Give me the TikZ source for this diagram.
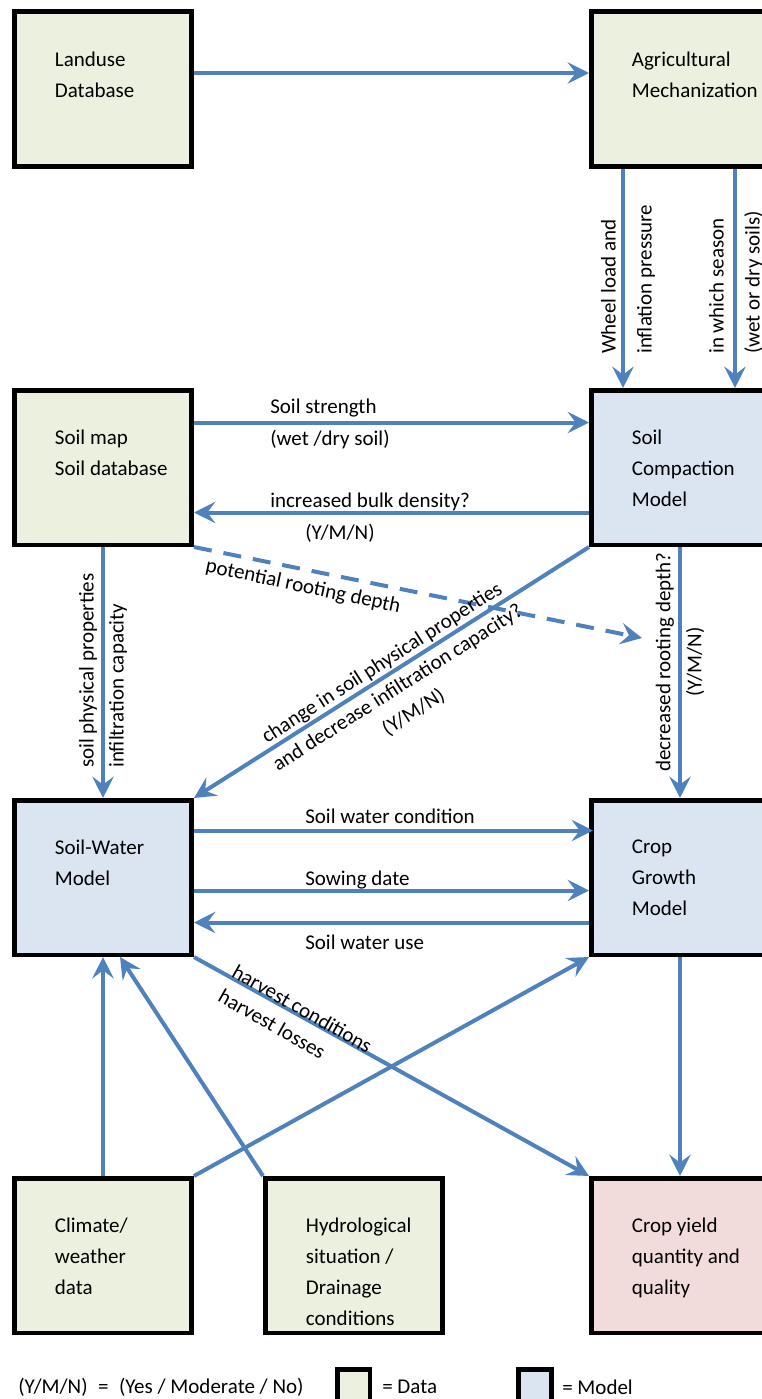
\documentclass[tikz,border=0pt]{standalone}
\usepackage{fontspec}
\setmainfont{Carlito}
\usepackage{tikz}
\usetikzlibrary{arrows.meta,calc,positioning}
\usepackage{xcolor}
\definecolor{arrowblue}{RGB}{79,129,189}
\definecolor{datagreen}{RGB}{235,241,222}
\definecolor{modelblue}{RGB}{219,229,241}
\definecolor{yieldpink}{RGB}{242,220,219}
\tikzstyle{box} = [draw=black, line width=3.4pt, minimum width=133.1pt, minimum height=115.9pt, inner sep=0pt]
\tikzstyle{databox} = [box, fill=datagreen]
\tikzstyle{modelbox} = [box, fill=modelblue]
\tikzstyle{yieldbox} = [box, fill=yieldpink]
\tikzstyle{boxtext} = [anchor=north west, align=left, inner sep=0pt, xshift=32pt, yshift=-31.5pt]
\tikzstyle{flowarrow} = [line width=3pt, color=arrowblue, -{Stealth[length=16pt,width=16pt,inset=6pt]}]
\tikzstyle{lbl} = [inner sep=0pt]
\tikzstyle{legbox} = [draw=black, line width=3.4pt, minimum width=24.4pt, minimum height=24.4pt, inner sep=0pt]

\begin{document}
\begin{tikzpicture}[x=0.75pt, y=-0.75pt, font=\fontsize{15.75}{23.25}\selectfont]
\useasboundingbox (0,0) rectangle (761,1399);

% data and model boxes
\node[databox, label={[boxtext]north west:Landuse\\Database}] (landuse) at (103,89) {};
\node[databox, label={[boxtext]north west:Agricultural\\Mechanization}] (agri) at (680,89) {};
\node[databox, label={[boxtext]north west:Soil map\\Soil database}] (soilmap) at (103,467.5) {};
\node[modelbox, label={[boxtext]north west:Soil\\Compaction\\Model}] (compact) at (680,467.5) {};
\node[modelbox, label={[boxtext]north west:Soil-Water\\Model}] (soilwater) at (103,877.5) {};
\node[modelbox, label={[boxtext]north west:Crop\\Growth\\Model}] (cropgrowth) at (680,877.5) {};
\node[databox, label={[boxtext]north west:Climate/\\weather\\data}] (climate) at (103,1255.5) {};
\node[databox, label={[boxtext]north west:Hydrological\\situation /\\Drainage\\conditions}] (hydro) at (354,1255.5) {};
\node[yieldbox, label={[boxtext]north west:Crop yield\\quantity and\\quality}] (yield) at (680,1255.5) {};

% connectors
\draw[flowarrow] ($(landuse.east)+(0,-16)$) -- ($(agri.west)+(0,-16)$);
\draw[flowarrow] ($(agri.south)+(-57,0)$) -- ($(compact.north)+(-57,0)$);
\draw[flowarrow] ($(agri.south)+(55,0)$) -- ($(compact.north)+(55,0)$);
\draw[flowarrow] ($(soilmap.east)+(0,-45)$) -- ($(compact.west)+(0,-45)$);
\draw[flowarrow] ($(compact.west)+(0,45)$) -- ($(soilmap.east)+(0,45)$);
\coordinate (rootend) at (642,638);
\draw[flowarrow, dash pattern=on 13.5pt off 9pt] (soilmap.south east) -- (rootend);
\draw[flowarrow] (soilmap.south) -- (soilwater.north);
\draw[flowarrow] (compact.south west) -- (soilwater.north east);
\draw[flowarrow] (compact.south) -- (cropgrowth.north);
\draw[flowarrow] ($(soilwater.east)+(0,-47)$) -- ($(cropgrowth.east)+(-178,-47)$);
\draw[flowarrow] ($(soilwater.east)+(0,13)$) -- ($(cropgrowth.west)+(0,13)$);
\draw[flowarrow] ($(cropgrowth.west)+(0,45)$) -- ($(soilwater.east)+(0,45)$);
\draw[flowarrow] (soilwater.south east) -- (yield.north west);
\draw[flowarrow] (climate.north) -- (soilwater.south);
\draw[flowarrow] (hydro.north west) -- ($(soilwater.south)+(17,0)$);
\draw[flowarrow] (climate.north east) -- (cropgrowth.south west);
\draw[flowarrow] (cropgrowth.south) -- (yield.north);

% connector labels
\node[lbl, rotate=90, anchor=west, align=left, font=\fontsize{15.75}{27}\selectfont] (wheel) at (628,354) {Wheel load and\\inflation pressure};
\node[lbl, rotate=90, anchor=west, align=left, font=\fontsize{15.75}{27}\selectfont] (season) at (736,354) {in which season\\(wet or dry soils)};
\node[lbl, anchor=west] (strength) at (270,408) {Soil strength};
\node[lbl, anchor=west] (wetdry) at (270,440) {(wet /dry soil)};
\node[lbl, anchor=west] (bulk) at (270,502) {increased bulk density?};
\node[lbl, anchor=west] (bulkynm) at (305,533) {(Y/M/N)};
\node[lbl, rotate=-12] (rooting) at (303,587) {potential rooting depth};
\node[lbl, rotate=90, anchor=west, align=left, font=\fontsize{15.75}{22.5}\selectfont] (physprop) at (103,768) {soil physical properties\\infiltration capacity};
\node[lbl, rotate=32.6, align=center, font=\fontsize{15.75}{22}\selectfont] (change) at (398,688) {change in soil physical properties\\and decrease infiltration capacity?\\(Y/M/N)};
\node[lbl, rotate=90, align=center] (decrease) at (680,662) {decreased rooting depth?\\(Y/M/N)};
\node[lbl, anchor=west] (swcond) at (305,816) {Soil water condition};
\node[lbl, anchor=west] (sowing) at (305,880) {Sowing date};
\node[lbl, anchor=west] (swuse) at (305,942) {Soil water use};
\node[lbl, rotate=-29.6, anchor=west, align=left, font=\fontsize{15.75}{21}\selectfont] (harvest) at (227,982) {harvest conditions\\harvest losses};

% legend
\node[lbl, anchor=west] (ymnkey) at (18,1387) {(Y/M/N)\enspace=\enspace(Yes / Moderate / No)};
\node[legbox, fill=datagreen] (datakey) at (353.5,1385.5) {};
\node[lbl, anchor=west] (datatext) at (382,1387) {= Data};
\node[legbox, fill=modelblue] (modelkey) at (535,1385.5) {};
\node[lbl, anchor=west] (modeltext) at (562,1387) {= Model};
\end{tikzpicture}
\end{document}
